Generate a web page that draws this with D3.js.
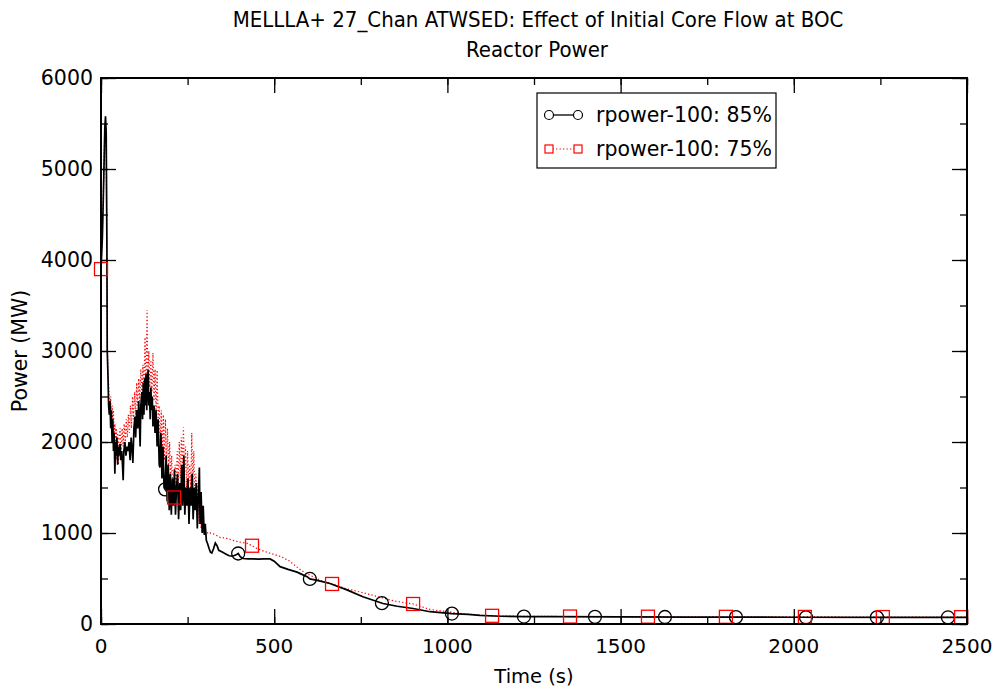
<!DOCTYPE html>
<html>
<head>
<meta charset="utf-8">
<script src="https://cdn.jsdelivr.net/npm/d3@7"></script>
<style>
body { margin: 0; background: #fff; }
text { font-family: "DejaVu Sans", sans-serif; fill: #000; }
.title { font-family: "DejaVu Sans Condensed", "DejaVu Sans", sans-serif; font-stretch: condensed; }
</style>
</head>
<body>
<div id="draw_zone"></div>
<script>
var chartTitle = "MELLLA+ 27_Chan ATWSED: Effect of Initial Core Flow at BOC";
var chartSubtitle = "Reactor Power";
var seriesNames = ["rpower-100: 85%", "rpower-100: 75%"];
var xTicks = [0, 500, 1000, 1500, 2000, 2500];
var yTicks = [0, 1000, 2000, 3000, 4000, 5000, 6000];

// time (s), power (MW) - 85% flow case
var time85 = [0,4,8,11,13,15,17,18,20,22,24,26,28,30,32,34,36,38,40,42,44,46,48,50,52,55,57,60,62,64,66,69,72,75,78,81,84,87,90,92,95,98,100,103,106,109,111,113,115,118,120,122,124,126,128,130,132,134,136,138,140,142,144,146,148,150,153,156,159,162,165,168,170,173,176,179,182,185,188,191,194,197,200,203,206,209,212,215,218,221,224,227,230,233,236,239,242,245,248,251,254,257,260,263,266,269,272,275,278,281,284,286,289,292,295,298,301,304,308,312,316,320,325,330,335,340,350,360,370,380,390,396,402,410,425,440,455,470,488,500,517,540,566,583,595,603,624,661,710,756,814,855,901,950,1013,1060,1094,1152,1221,1300,1500,1700,2000,2300,2500];
var power85 = [3900,4250,4900,5450,5580,5400,4200,3000,2750,2400,2300,2450,2150,2350,2000,2250,1900,2100,1650,2000,1850,2050,1750,1950,1850,1980,1800,1900,1750,1580,1900,2000,1850,1950,1900,2000,1800,2050,1900,1770,2150,2280,2050,2350,2150,2450,2200,1950,2400,2550,2250,2650,2300,2700,2400,2750,2350,2650,2790,2400,2550,2250,2600,2350,2500,2170,2400,2100,2350,1950,2250,1750,1720,2100,1600,1950,1500,1480,1850,1350,1750,1250,1650,1200,1600,1300,1700,1200,1500,1650,1150,1550,1250,1750,1300,1850,1200,1500,1300,1600,1100,1500,1300,1650,1150,1500,1250,1550,1050,1400,1720,1100,1450,1000,1300,980,1100,920,880,830,790,780,830,890,860,810,790,770,750,745,760,775,740,720,715,715,712,715,715,690,630,600,570,540,520,495,480,445,375,300,225,195,170,135,115,105,95,85,82,80,78,76,74,72,72];

// time (s), power (MW) - 75% flow case
var time75 = [0,4,8,11,13,15,17,18,20,22,24,26,28,30,32,34,36,38,40,42,44,46,48,50,52,55,58,61,64,67,70,73,76,79,82,85,88,91,94,97,100,103,106,109,112,115,118,121,124,127,130,133,135,138,141,144,147,150,153,156,159,162,165,168,171,174,177,180,183,186,189,192,195,198,201,204,207,211,214,217,220,223,226,229,232,235,238,241,244,247,250,253,256,259,262,265,268,271,274,277,280,283,286,289,292,295,298,302,306,310,316,325,335,345,360,380,400,420,436,450,470,495,520,545,566,590,615,640,667,710,750,800,850,901,950,1000,1050,1100,1129,1200,1354,1600,2000,2500];
var power75 = [3900,4300,5000,5450,5500,5300,4000,3100,2800,2650,2450,2300,2500,2200,2400,2150,2350,2050,2200,1900,2150,1800,2100,1750,2050,2150,1850,2150,1950,2200,2000,2250,2050,2300,2100,2400,2150,2500,2250,2550,2300,2650,2400,2700,2450,2800,2500,2850,2550,3150,2600,3450,2700,3000,2600,2900,2550,2980,2450,2800,2300,2790,2250,2400,2000,2350,1850,2300,1800,2250,1750,2150,1700,2000,1550,1850,1450,1390,1750,1500,1900,1550,2000,1600,2050,1700,2160,1650,1950,1500,1900,1550,1750,1450,2100,1500,1900,1300,1650,1250,1550,1100,1450,1050,1300,1000,1050,980,1010,990,1000,990,970,950,945,920,900,890,860,830,800,770,740,690,625,560,515,470,440,385,350,300,250,220,160,135,110,95,90,85,82,80,78,75];

// times where the plotting program put its symbols
var markers85 = [185,396,603,811,1013,1221,1426,1628,1833,2035,2240,2445];
var markers75 = [0,211,436,667,901,1129,1354,1579,1804,2032,2257,2483];

var W = 995, H = 690;
var margin = {top: 78, right: 28, bottom: 66, left: 101};
var w = W - margin.left - margin.right, h = H - margin.top - margin.bottom;

var svg = d3.select("#draw_zone").append("svg").attr("width", W).attr("height", H);
var g = svg.append("g").attr("transform", "translate(" + margin.left + "," + margin.top + ")");

var x = d3.scaleLinear().domain([0, 2500]).range([0, w]);
var y = d3.scaleLinear().domain([0, 6000]).range([h, 0]);

function pairs(t, p) {
	return t.map(function(d, i) { return [d, p[i]]; });
}
var data85 = pairs(time85, power85);
var data75 = pairs(time75, power75);

// value of a series at time t (linear between samples)
function valueAt(data, t) {
	var i = d3.bisector(function(d) { return d[0]; }).left(data, t);
	if (i <= 0) return data[0][1];
	if (i >= data.length) return data[data.length - 1][1];
	var a = data[i - 1], b = data[i];
	return a[1] + (b[1] - a[1]) * (t - a[0]) / (b[0] - a[0]);
}

var line = d3.line().x(function(d) { return x(d[0]); }).y(function(d) { return y(d[1]); });

g.append("path").datum(data75).attr("d", line).attr("fill", "none")
	.attr("stroke", "#f00").attr("stroke-width", 1.2).attr("stroke-dasharray", "1.3,2.2");
g.append("path").datum(data85).attr("d", line).attr("fill", "none")
	.attr("stroke", "#000").attr("stroke-width", 1.7);

g.selectAll(".m85").data(markers85).enter().append("circle")
	.attr("cx", function(d) { return x(d); }).attr("cy", function(d) { return y(valueAt(data85, d)); })
	.attr("r", 6.5).attr("fill", "none").attr("stroke", "#000").attr("stroke-width", 1.3);
g.selectAll(".m75").data(markers75).enter().append("rect")
	.attr("x", function(d) { return x(d) - 6.5; }).attr("y", function(d) { return y(valueAt(data75, d)) - 6.5; })
	.attr("width", 13).attr("height", 13).attr("fill", "none").attr("stroke", "#f00").attr("stroke-width", 1.3);

// axes, ticks pointing inward on all four sides
var xMinor = d3.range(0, 2501, 250), yMinor = d3.range(0, 6001, 500);
function drawTicks(axis, vals, len, offset) {
	g.append("g").attr("transform", offset).call(axis.tickValues(vals).tickSize(len).tickFormat(""))
		.call(function(s) { s.select(".domain").remove(); s.selectAll("line").attr("stroke", "#000").attr("stroke-width", 1.3); });
}
drawTicks(d3.axisTop(x), xMinor, 7, "translate(0," + h + ")");
drawTicks(d3.axisTop(x), xTicks, 15, "translate(0," + h + ")");
drawTicks(d3.axisBottom(x), xMinor, 7, "translate(0,0)");
drawTicks(d3.axisBottom(x), xTicks, 15, "translate(0,0)");
drawTicks(d3.axisRight(y), yMinor, 7, "translate(0,0)");
drawTicks(d3.axisRight(y), yTicks, 15, "translate(0,0)");
drawTicks(d3.axisLeft(y), yMinor, 7, "translate(" + w + ",0)");
drawTicks(d3.axisLeft(y), yTicks, 15, "translate(" + w + ",0)");

g.append("rect").attr("width", w).attr("height", h).attr("fill", "none").attr("stroke", "#000").attr("stroke-width", 2);

g.selectAll(".xl").data(xTicks).enter().append("text")
	.attr("x", function(d) { return x(d); }).attr("y", h + 29).attr("text-anchor", "middle")
	.style("font-size", "20px").text(function(d) { return d; });
g.selectAll(".yl").data(yTicks).enter().append("text")
	.attr("x", -8).attr("y", function(d) { return y(d) + 7; }).attr("text-anchor", "end")
	.style("font-size", "20.5px").text(function(d) { return d; });

svg.append("text").attr("x", margin.left + w / 2).attr("y", 683).attr("text-anchor", "middle")
	.style("font-size", "19.5px").text("Time (s)");
svg.append("text").attr("transform", "translate(27," + (margin.top + h / 2) + ") rotate(-90)")
	.attr("text-anchor", "middle").style("font-size", "20.5px").text("Power (MW)");

svg.append("text").attr("class", "title").attr("x", 538).attr("y", 27).attr("text-anchor", "middle")
	.style("font-size", "22px").text(chartTitle);
svg.append("text").attr("class", "title").attr("x", 537).attr("y", 57).attr("text-anchor", "middle")
	.style("font-size", "22px").text(chartSubtitle);

// legend
var leg = svg.append("g").attr("transform", "translate(537,93)");
leg.append("rect").attr("width", 239).attr("height", 75).attr("fill", "#fff").attr("stroke", "#000").attr("stroke-width", 1.2);
var rows = [22, 56];
leg.append("line").attr("x1", 11).attr("x2", 42).attr("y1", rows[0]).attr("y2", rows[0]).attr("stroke", "#000").attr("stroke-width", 1.3);
leg.append("circle").attr("cx", 12).attr("cy", rows[0]).attr("r", 4.5).attr("fill", "#fff").attr("stroke", "#000").attr("stroke-width", 1.2);
leg.append("circle").attr("cx", 41).attr("cy", rows[0]).attr("r", 4.5).attr("fill", "#fff").attr("stroke", "#000").attr("stroke-width", 1.2);
leg.append("line").attr("x1", 12).attr("x2", 42).attr("y1", rows[1]).attr("y2", rows[1]).attr("stroke", "#f00").attr("stroke-width", 1.1).attr("stroke-dasharray", "1.3,2.2");
leg.append("rect").attr("x", 8).attr("y", rows[1] - 4).attr("width", 8).attr("height", 8).attr("fill", "#fff").attr("stroke", "#f00").attr("stroke-width", 1.2);
leg.append("rect").attr("x", 37).attr("y", rows[1] - 4).attr("width", 8).attr("height", 8).attr("fill", "#fff").attr("stroke", "#f00").attr("stroke-width", 1.2);
leg.selectAll(".lt").data(seriesNames).enter().append("text")
	.attr("x", 59).attr("y", function(d, i) { return rows[i] + 7; })
	.style("font-size", "20.5px").text(function(d) { return d; });
</script>
</body>
</html>
